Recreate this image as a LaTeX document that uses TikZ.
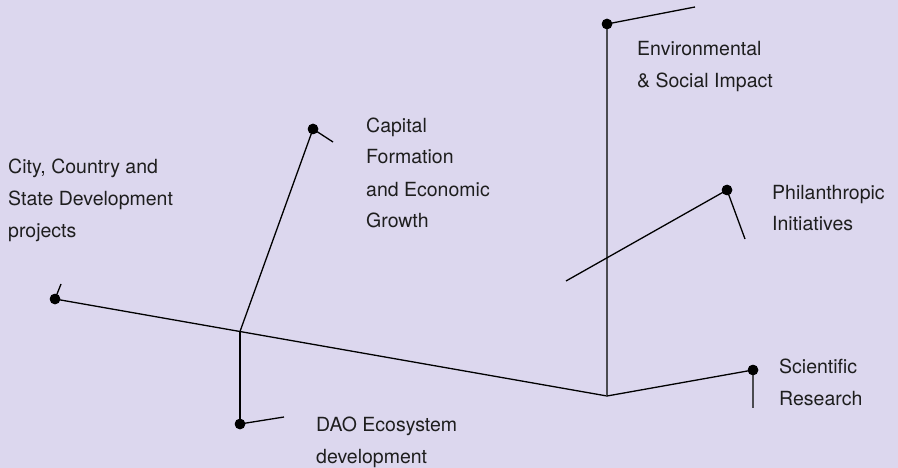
\documentclass[tikz,border=0pt]{standalone}
\usepackage{fontspec}
\setmainfont{TeX Gyre Heros}
\definecolor{bg}{RGB}{220,215,238}
\definecolor{ink}{RGB}{30,30,30}
\definecolor{stem}{RGB}{75,75,80}
\begin{document}
\begin{tikzpicture}[x=1pt,y=-1pt,
  dotnode/.style={circle,fill=black,inner sep=0pt,minimum size=10.5pt},
  lbl/.style={anchor=base west,align=left,inner sep=0pt,text=ink,font=\fontsize{19.5}{32}\selectfont},
  wire/.style={line width=1.3pt,black},
  stemline/.style={line width=1.8pt,stem}]
\fill[bg] (0,0) rectangle (898,468);
\useasboundingbox (0,0) rectangle (898,468);
% junctions and tick ends
\coordinate (A) at (240,331.5);
\coordinate (B) at (607,396);
\coordinate (P0) at (566,281);
\coordinate (tcity) at (61,284);
\coordinate (tcap) at (333,142);
\coordinate (tdao) at (284,417);
\coordinate (tenv) at (695,7);
\coordinate (tphil) at (745,239);
\coordinate (tsci) at (753,408);
% dots
\node[dotnode] (city) at (55,299) {};
\node[dotnode] (cap) at (313,129) {};
\node[dotnode] (dao) at (240,424) {};
\node[dotnode] (env) at (607,24) {};
\node[dotnode] (phil) at (727,190) {};
\node[dotnode] (sci) at (753,370) {};
% connectors
\draw[wire] (city.center) -- (B);
\draw[wire] (A) -- (cap.center);
\draw[wire] (A) -- (dao.center);
\draw[stemline] (B) -- (env.center);
\draw[wire] (B) -- (sci.center);
\draw[wire] (P0) -- (phil.center);
\draw[wire] (city.center) -- (tcity);
\draw[wire] (cap.center) -- (tcap);
\draw[wire] (dao.center) -- (tdao);
\draw[wire] (env.center) -- (tenv);
\draw[wire] (phil.center) -- (tphil);
\draw[stemline] (sci.center) -- (tsci);
% redraw dots on top
\foreach \n in {city,cap,dao,env,phil,sci} \fill[black] (\n.center) circle (5.25pt);
% labels (anchor = baseline of last line)
\node[lbl] (lcity) at (8,237) {City, Country and\\State Development\\projects};
\node[lbl] (lcap) at (366,228) {Capital\\Formation\\and Economic\\Growth};
\node[lbl] (lenv) at (637,88) {Environmental\\\& Social Impact};
\node[lbl] (lphil) at (772,231) {Philanthropic\\Initiatives};
\node[lbl] (lsci) at (779,405) {Scientific\\Research};
\node[lbl] (ldao) at (316,463) {DAO Ecosystem\\development};
\end{tikzpicture}
\end{document}
